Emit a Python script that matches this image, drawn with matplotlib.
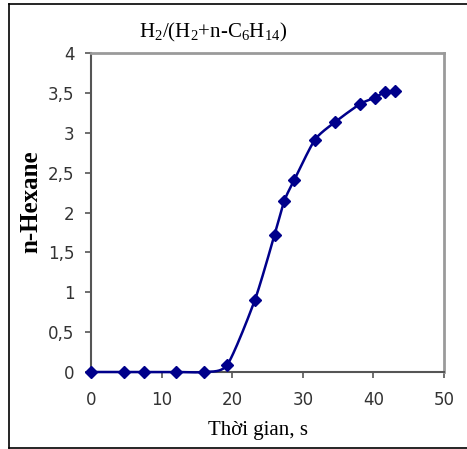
import numpy as np
import matplotlib
matplotlib.use("Agg")
import matplotlib.pyplot as plt
from matplotlib.lines import Line2D

time_s = [0, 4.7, 7.5, 12, 16, 19.3, 23.2, 26.0, 27.4, 28.8, 31.7, 34.5, 38.1, 40.2, 41.6, 43.0]
hexane = [0, 0, 0, 0, 0, 0.09, 0.90, 1.72, 2.15, 2.41, 2.91, 3.13, 3.36, 3.44, 3.51, 3.52]
x_ticks = [0, 10, 20, 30, 40, 50]
y_ticks = [0, 0.5, 1, 1.5, 2, 2.5, 3, 3.5, 4]
y_tick_labels = ["0", "0,5", "1", "1,5", "2", "2,5", "3", "3,5", "4"]
title = r"H$_2$/(H$_2$+n-C$_6$H$_{14}$)"
x_label = "Thời gian, s"
y_label = "n-Hexane"

def smooth_curve(xs, ys, n=24, k=0.35):
    xs = np.asarray(xs, float); ys = np.asarray(ys, float)
    P = np.column_stack([xs, ys])
    P = np.vstack([P[0], P, P[-1]])
    out = []
    for i in range(1, len(P) - 2):
        p0, p1, p2, p3 = P[i - 1], P[i], P[i + 1], P[i + 2]
        c1 = p1 + (p2 - p0) * k / 3.0 * 1.0
        c2 = p2 - (p3 - p1) * k / 3.0 * 1.0
        t = np.linspace(0, 1, n, endpoint=False)[:, None]
        seg = ((1 - t) ** 3) * p1 + 3 * ((1 - t) ** 2) * t * c1 + 3 * (1 - t) * t ** 2 * c2 + t ** 3 * p2
        out.append(seg)
    out.append(P[-2][None, :])
    C = np.vstack(out)
    return C[:, 0], C[:, 1]

plt.rcParams['mathtext.fontset'] = 'custom'
plt.rcParams['mathtext.rm'] = 'Liberation Serif'
plt.rcParams['mathtext.it'] = 'Liberation Serif'

fig = plt.figure(figsize=(4.67, 4.49), dpi=100)
ax = fig.add_axes([91 / 467, 1 - 372 / 449, (444 - 91) / 467, (372 - 53) / 449])

navy = "#00008b"
sx, sy = smooth_curve(time_s, hexane)
ax.plot(sx, sy, color=navy, lw=1.8, zorder=3, clip_on=False)
ax.plot(time_s, hexane, linestyle="none", marker="D", ms=6.5, color=navy, zorder=4, clip_on=False)

ax.set_xlim(0, 50)
ax.set_ylim(0, 4)
ax.set_xticks(x_ticks)
ax.set_yticks(y_ticks)
ax.set_yticklabels(y_tick_labels)

for lab in ax.get_xticklabels() + ax.get_yticklabels():
    lab.set_fontfamily(['Liberation Sans Narrow', 'DejaVu Sans'])
    lab.set_fontsize(12)
    lab.set_color("#333333")

ax.tick_params(axis='both', direction='out', length=4, width=1.2, color="#555555")
ax.tick_params(axis='x', pad=10)
ax.tick_params(axis='y', pad=8)

for s in ['left', 'bottom']:
    ax.spines[s].set_color("#555555")
    ax.spines[s].set_linewidth(1.5)
for s in ['top', 'right']:
    ax.spines[s].set_color("#9a9a9a")
    ax.spines[s].set_linewidth(2.0)

fig.text(213 / 467, 1 - 32 / 449, title, ha='center', va='center',
         fontsize=15, family='Liberation Serif')
fig.text(258 / 467, 1 - 430 / 449, x_label, ha='center', va='center',
         fontsize=15, family='Liberation Serif')
fig.text(31 / 467, 1 - 202 / 449, y_label, ha='center', va='center', rotation=90,
         fontsize=18, family='Liberation Serif', fontweight='bold')

# outer frame
fx0, fx1 = 8.5 / 467, 1.0
fy0, fy1 = 1 - 447.5 / 449, 1 - 3.5 / 449
for xs_, ys_ in [([fx0, fx0], [fy0, fy1]), ([fx0, fx1], [fy1, fy1]), ([fx0, fx1], [fy0, fy0])]:
    fig.add_artist(Line2D(xs_, ys_, transform=fig.transFigure, color="black", lw=1.2))

fig.savefig("out.png", dpi=100)
